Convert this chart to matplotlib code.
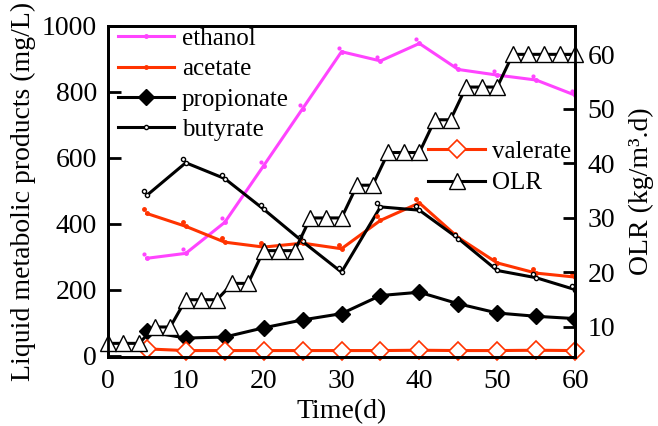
import matplotlib
matplotlib.use('Agg')
import matplotlib.pyplot as plt
from matplotlib.transforms import offset_copy

plt.rcParams['font.family'] = ['Liberation Serif', 'DejaVu Serif']

# sampling days for the liquid products
days = [5, 10, 15, 20, 25, 30, 35, 40, 45, 50, 55, 60]
ethanol = [295, 310, 404, 576, 749, 922, 894, 947, 868, 851, 836, 790]
acetate = [431, 392, 344, 329, 341, 324, 410, 463, 358, 281, 250, 238]
propionate = [73, 53, 56, 84, 108, 127, 182, 192, 157, 129, 119, 112]
butyrate = [486, 585, 537, 444, 346, 253, 451, 441, 355, 258, 236, 200]
valerate = [20, 15, 15, 15, 15, 15, 15, 16, 15, 15, 16, 15]

# organic loading rate
days_olr = [0, 2, 4, 6, 8, 10, 12, 14, 16, 18, 20, 22, 24, 26, 28, 30,
            32, 34, 36, 38, 40, 42, 44, 46, 48, 50, 52, 54, 56, 58, 60]
olr = [7, 7, 7, 10, 10, 15, 15, 15, 18, 18, 24, 24, 24, 30, 30, 30,
       36, 36, 42, 42, 42, 48, 48, 54, 54, 54, 60, 60, 60, 60, 60]

magenta = '#ff44ff'
red = '#ff3300'
fs = 20

fig = plt.figure(figsize=(6.58, 4.26), dpi=100)
ax = fig.add_axes([0.164, 0.162, 0.71, 0.777])
ax2 = ax.twinx()

lw = 2.2
l_eth, = ax.plot(days, ethanol, color=magenta, lw=lw, marker='o', ms=2.5, label='ethanol')
l_ace, = ax.plot(days, acetate, color=red, lw=lw, marker='o', ms=2.5, label='acetate')
l_pro, = ax.plot(days, propionate, color='black', lw=lw, marker='D', ms=8, label='propionate')
l_but, = ax.plot(days, butyrate, color='black', lw=lw, marker='o', ms=3,
                 mfc='white', mew=1, label='butyrate')
l_val, = ax.plot(days, valerate, color=red, lw=lw, marker='D', ms=9, mfc='white',
                 mew=1.2, label='valerate', clip_on=False)

# the small dots sit a bit off the lines in the original
off = offset_copy(ax.transData, fig=fig, x=-3, y=4, units='dots')
ax.plot(days, ethanol, ls='none', marker='o', ms=2, color=magenta, transform=off)
ax.plot(days, acetate, ls='none', marker='o', ms=2.5, color=red, transform=off)
ax.plot(days, butyrate, ls='none', marker='o', ms=3, mfc='white', mec='black',
        mew=1, transform=off)

l_olr, = ax2.plot(days_olr, olr, color='black', lw=lw, marker='^', ms=11,
                  mfc='white', mew=1, label='OLR', clip_on=False)

ax.set_xlim(0, 60)
ax.set_ylim(-4.5, 1000)
ax2.set_ylim(4.5, 65.2)
ax.set_xticks([0, 10, 20, 30, 40, 50, 60])
ax.set_yticks([0, 200, 400, 600, 800, 1000])
ax2.set_yticks([10, 20, 30, 40, 50, 60])

ax.set_xlabel('Time(d)', fontsize=fs, labelpad=3)
ax.set_ylabel('Liquid metabolic products (mg/L)', fontsize=fs, labelpad=4)
ax2.set_ylabel('OLR (kg/m³.d)', fontsize=fs, labelpad=10)

ax.tick_params(axis='both', direction='in', length=9, width=2, labelsize=fs, pad=8)
ax.tick_params(axis='x', pad=9)
ax2.tick_params(axis='y', direction='in', length=9, width=2, labelsize=fs, pad=9)
for a in (ax, ax2):
    for s in a.spines.values():
        s.set_linewidth(2)

leg1 = ax.legend(handles=[l_eth, l_ace, l_pro, l_but], loc='upper left',
                 bbox_to_anchor=(-0.01, 1.04), frameon=False, fontsize=18,
                 handlelength=2.25, handletextpad=0.3, labelspacing=0.31,
                 borderaxespad=0.2)
leg2 = ax2.legend(handles=[l_val, l_olr], loc='upper left',
                  bbox_to_anchor=(0.638, 0.722), frameon=False, fontsize=18,
                  handlelength=2.25, handletextpad=0.3, labelspacing=0.35)

fig.savefig('out.png', dpi=100)
